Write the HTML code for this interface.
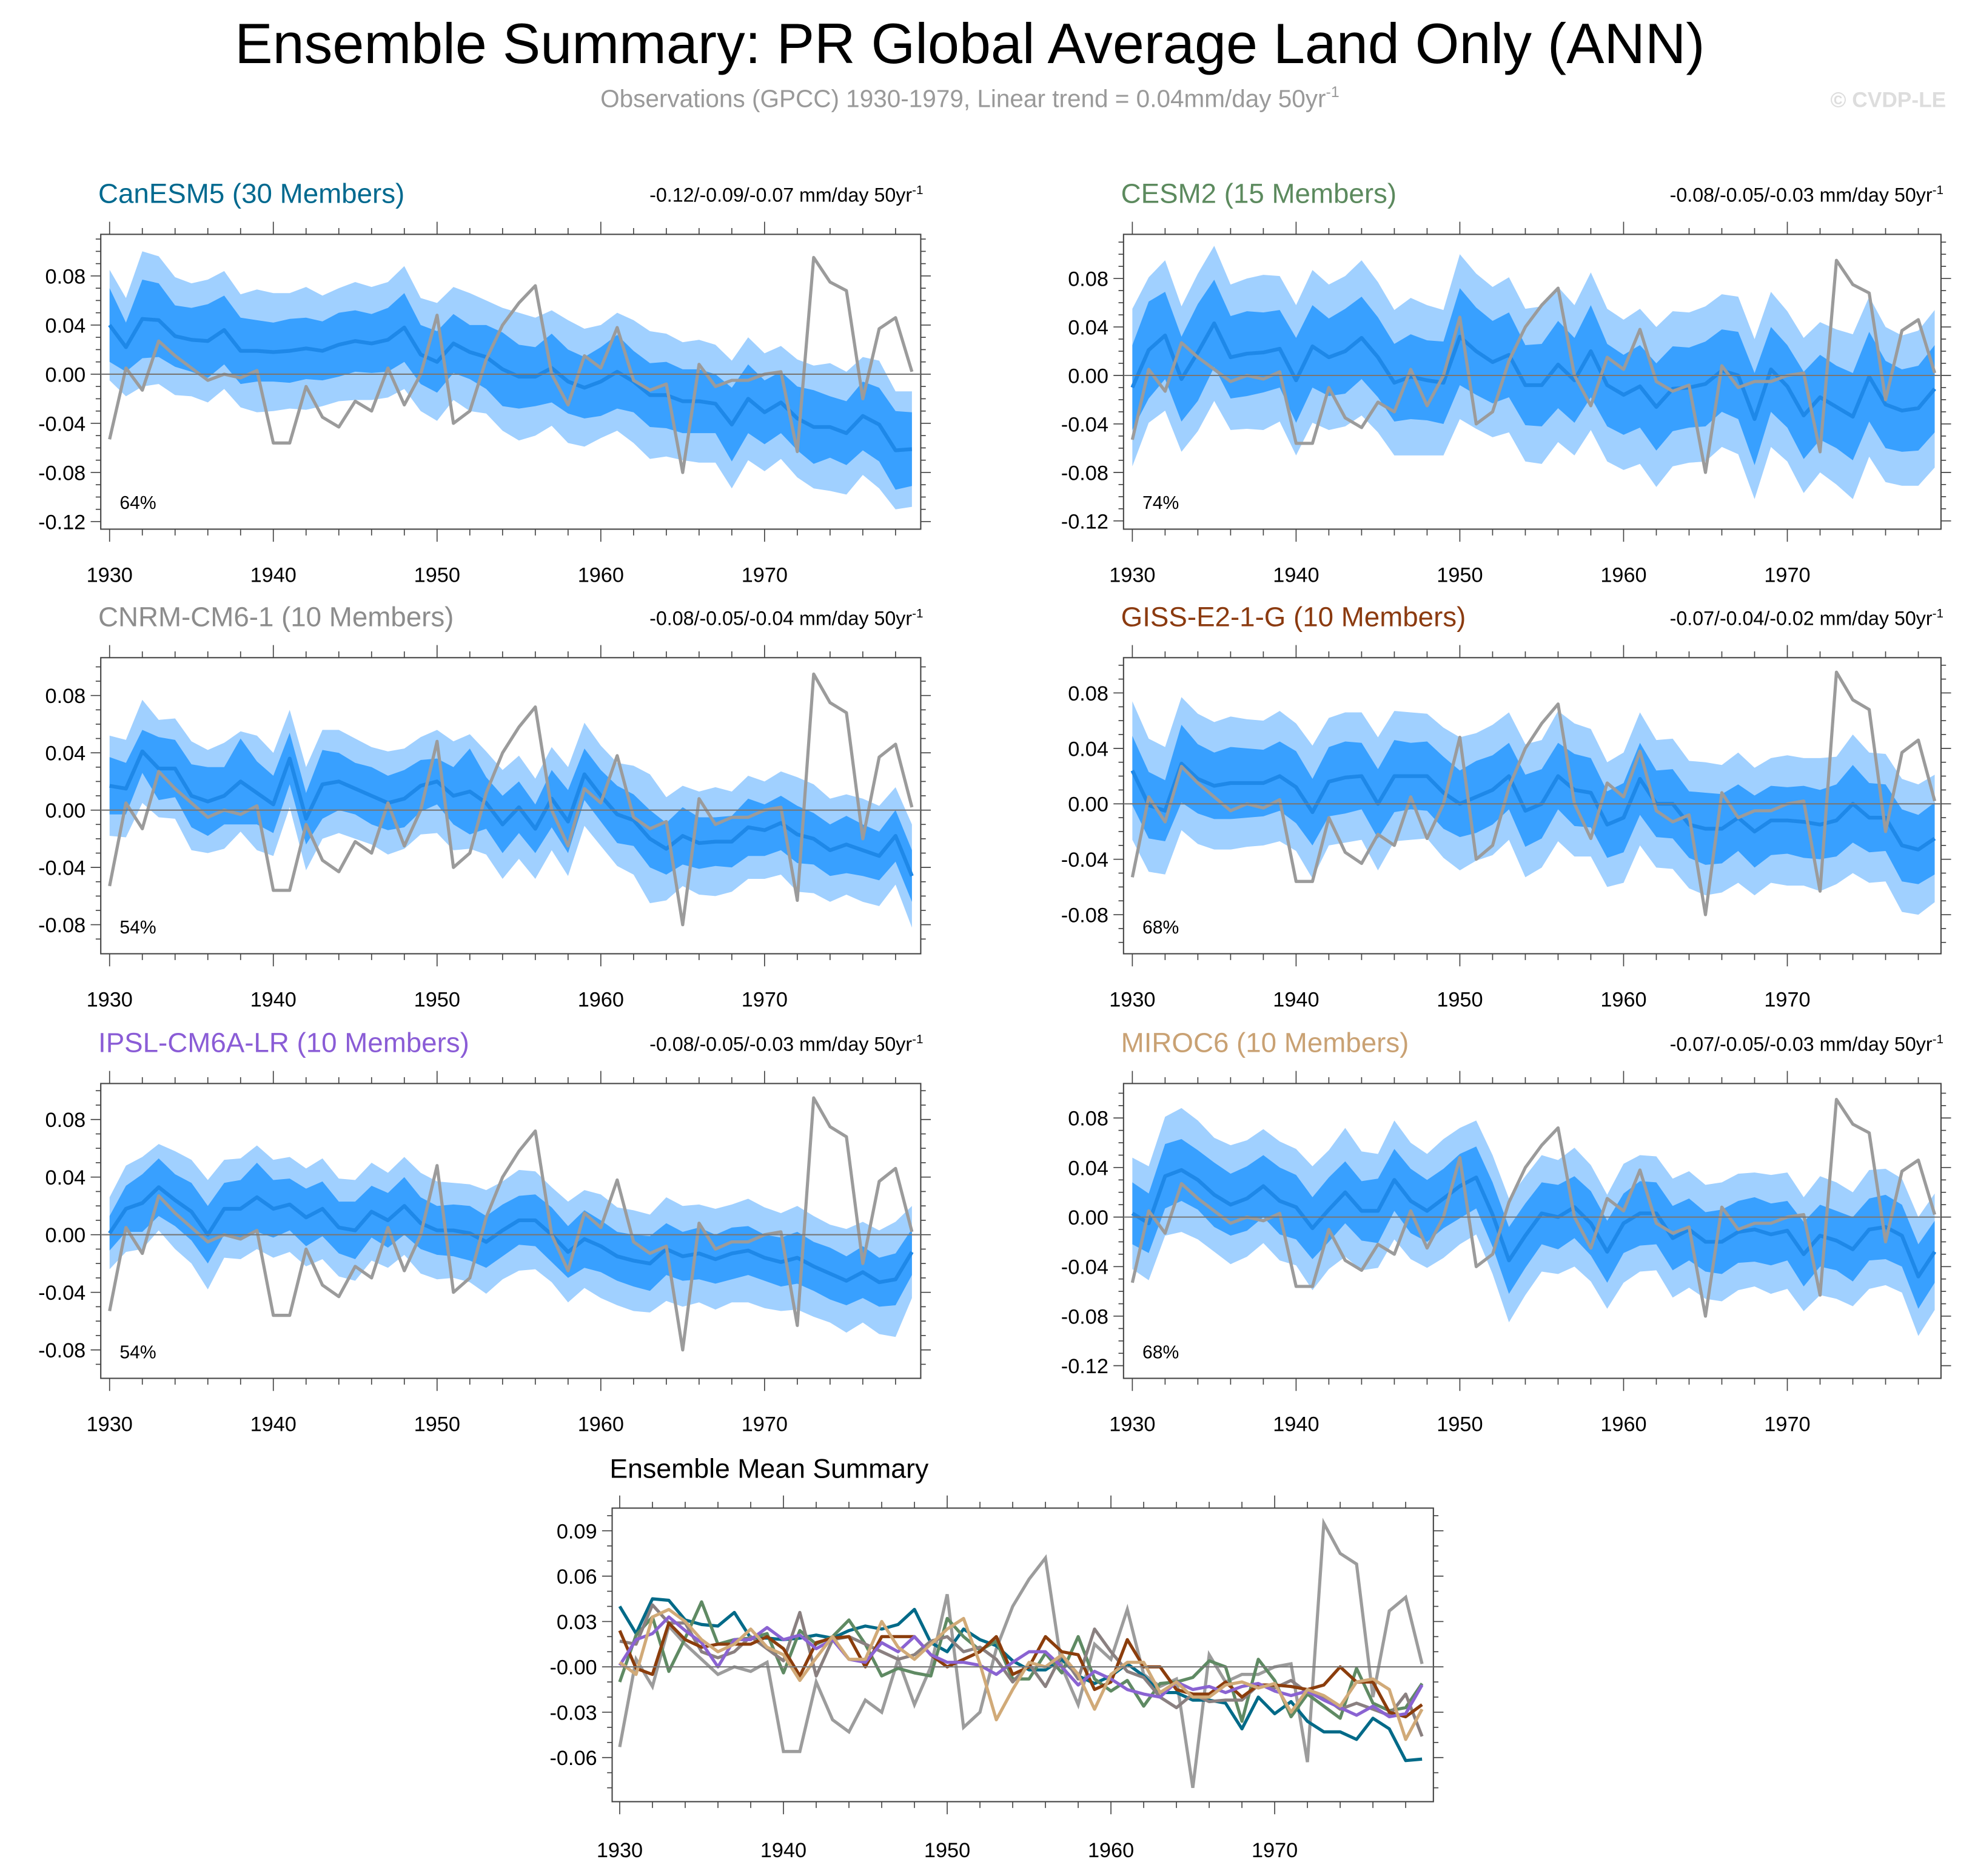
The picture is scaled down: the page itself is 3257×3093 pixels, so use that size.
<!DOCTYPE html>
<html><head><meta charset="utf-8"><style>
html,body{margin:0;padding:0;background:#fff;}
svg{display:block;font-family:"Liberation Sans",sans-serif;}
</style></head><body>
<svg id="chart" xmlns="http://www.w3.org/2000/svg" width="3257" height="3093" viewBox="0 0 1568 1489" preserveAspectRatio="none">
<rect x="0" y="0" width="1568" height="1489" fill="#fff"/>
<text x="770" y="50" font-size="45" text-anchor="middle" fill="#000">Ensemble Summary: PR Global Average Land Only (ANN)</text>
<text x="770" y="85" font-size="19.5" text-anchor="middle" fill="#999">Observations (GPCC) 1930-1979, Linear trend = 0.04mm/day 50yr<tspan dy="-8" font-size="12">-1</tspan></text>
<text x="1545" y="85" font-size="17" font-weight="bold" text-anchor="end" fill="#ddd">© CVDP-LE</text>
<g id="panels"></g>
</svg>
<script>
const years = [];
for (let y = 1930; y <= 1979; y++) years.push(y);
const obs = [-0.053,0.005,-0.013,0.027,0.015,0.005,-0.005,0.000,-0.003,0.003,-0.056,-0.056,-0.010,-0.035,-0.043,-0.022,-0.030,0.005,-0.025,0.000,0.048,-0.040,-0.030,0.012,0.040,0.058,0.072,0.000,-0.025,0.015,0.005,0.038,-0.005,-0.013,-0.008,-0.080,0.008,-0.010,-0.005,-0.005,0.000,0.002,-0.063,0.095,0.075,0.068,-0.020,0.037,0.046,0.002];
const meanCanESM5 = [0.040,0.022,0.045,0.044,0.031,0.028,0.027,0.036,0.019,0.019,0.018,0.019,0.021,0.019,0.024,0.027,0.025,0.028,0.038,0.016,0.010,0.025,0.018,0.014,0.004,-0.002,-0.002,0.005,-0.006,-0.011,-0.006,0.002,-0.006,-0.017,-0.017,-0.022,-0.022,-0.024,-0.041,-0.020,-0.031,-0.023,-0.036,-0.043,-0.043,-0.048,-0.034,-0.041,-0.062,-0.061];
const meanCESM2 = [-0.010,0.021,0.033,-0.003,0.019,0.043,0.015,0.018,0.019,0.022,-0.004,0.024,0.015,0.020,0.031,0.015,-0.006,-0.001,-0.004,-0.006,0.032,0.020,0.011,0.017,-0.008,-0.008,0.009,-0.004,0.020,-0.008,-0.016,-0.009,-0.026,-0.011,-0.010,-0.007,0.004,0.000,-0.036,0.005,-0.009,-0.033,-0.018,-0.026,-0.034,-0.001,-0.024,-0.029,-0.027,-0.011];
const meanCNRM = [0.017,0.015,0.041,0.029,0.029,0.010,0.006,0.010,0.020,0.012,0.004,0.036,-0.006,0.018,0.020,0.015,0.010,0.005,0.008,0.017,0.020,0.010,0.013,0.005,-0.010,0.002,-0.013,0.008,-0.008,0.025,0.010,-0.003,-0.007,-0.020,-0.027,-0.018,-0.023,-0.022,-0.022,-0.012,-0.014,-0.009,-0.017,-0.020,-0.028,-0.024,-0.028,-0.032,-0.018,-0.046];
const meanGISS = [0.024,-0.001,-0.005,0.029,0.018,0.013,0.015,0.015,0.015,0.020,0.012,-0.006,0.016,0.019,0.020,0.000,0.020,0.020,0.020,0.008,0.000,0.005,0.010,0.020,-0.005,0.000,0.020,0.010,0.008,-0.015,-0.010,0.018,0.000,0.000,-0.015,-0.018,-0.018,-0.010,-0.020,-0.012,-0.012,-0.013,-0.015,-0.012,0.000,-0.010,-0.010,-0.030,-0.033,-0.025];
const meanIPSL = [0.001,0.018,0.022,0.033,0.024,0.016,0.000,0.018,0.018,0.026,0.018,0.021,0.012,0.018,0.005,0.003,0.016,0.010,0.020,0.008,0.003,0.003,0.001,-0.005,0.003,0.010,0.010,0.000,-0.012,-0.003,-0.008,-0.015,-0.018,-0.020,-0.010,-0.015,-0.013,-0.017,-0.013,-0.011,-0.016,-0.019,-0.016,-0.022,-0.027,-0.032,-0.026,-0.033,-0.031,-0.012];
const meanMIROC6 = [0.003,-0.005,0.033,0.038,0.030,0.018,0.010,0.015,0.025,0.013,0.008,-0.009,0.006,0.020,0.005,0.005,0.030,0.013,0.005,0.015,0.025,0.032,0.002,-0.035,-0.015,0.003,0.000,0.008,-0.005,-0.028,-0.005,0.003,0.003,-0.017,-0.010,-0.020,-0.020,-0.012,-0.010,-0.014,-0.011,-0.030,-0.015,-0.019,-0.026,-0.010,-0.008,-0.015,-0.048,-0.028];
const innerCanESM5 = [0.030,0.020,0.032,0.030,0.025,0.026,0.030,0.028,0.027,0.025,0.024,0.026,0.025,0.024,0.026,0.025,0.024,0.026,0.028,0.024,0.025,0.024,0.022,0.026,0.030,0.026,0.024,0.028,0.026,0.025,0.028,0.030,0.025,0.026,0.027,0.026,0.026,0.024,0.030,0.028,0.026,0.025,0.026,0.030,0.025,0.026,0.028,0.030,0.032,0.030];
const outerCanESM5 = [0.045,0.040,0.055,0.052,0.048,0.046,0.050,0.048,0.046,0.050,0.048,0.047,0.050,0.045,0.046,0.048,0.046,0.047,0.050,0.046,0.048,0.046,0.048,0.046,0.050,0.052,0.048,0.047,0.050,0.048,0.046,0.048,0.050,0.052,0.050,0.048,0.050,0.048,0.052,0.050,0.048,0.046,0.048,0.050,0.052,0.050,0.048,0.052,0.048,0.047];
const innerCESM2 = [0.035,0.040,0.036,0.035,0.040,0.036,0.034,0.035,0.033,0.032,0.035,0.034,0.032,0.035,0.034,0.033,0.032,0.035,0.033,0.034,0.040,0.036,0.034,0.035,0.033,0.034,0.036,0.035,0.038,0.034,0.033,0.034,0.036,0.035,0.033,0.035,0.034,0.036,0.038,0.035,0.034,0.036,0.035,0.034,0.036,0.037,0.036,0.034,0.035,0.036];
const outerCESM2 = [0.065,0.060,0.062,0.060,0.065,0.064,0.060,0.062,0.064,0.060,0.062,0.063,0.060,0.062,0.064,0.062,0.060,0.065,0.062,0.060,0.068,0.064,0.062,0.064,0.063,0.065,0.064,0.062,0.065,0.063,0.062,0.064,0.066,0.064,0.062,0.064,0.063,0.065,0.066,0.064,0.062,0.064,0.062,0.064,0.068,0.066,0.064,0.062,0.064,0.065];
const innerCNRM = [0.020,0.018,0.015,0.022,0.020,0.022,0.024,0.020,0.030,0.022,0.020,0.018,0.018,0.024,0.020,0.018,0.020,0.019,0.020,0.018,0.016,0.020,0.030,0.018,0.020,0.018,0.017,0.020,0.022,0.018,0.018,0.020,0.018,0.020,0.018,0.020,0.018,0.017,0.018,0.020,0.018,0.019,0.020,0.018,0.018,0.020,0.018,0.017,0.018,0.018];
const outerCNRM = [0.035,0.034,0.036,0.034,0.035,0.038,0.036,0.037,0.035,0.040,0.036,0.034,0.036,0.038,0.036,0.035,0.034,0.036,0.035,0.034,0.036,0.038,0.040,0.036,0.038,0.036,0.035,0.036,0.038,0.036,0.035,0.036,0.038,0.045,0.036,0.035,0.036,0.038,0.035,0.036,0.034,0.036,0.040,0.038,0.036,0.035,0.036,0.035,0.034,0.036];
const innerGISS = [0.025,0.024,0.022,0.028,0.025,0.024,0.026,0.025,0.024,0.025,0.026,0.024,0.025,0.026,0.024,0.025,0.026,0.024,0.025,0.026,0.024,0.026,0.025,0.024,0.026,0.025,0.024,0.026,0.025,0.024,0.025,0.026,0.024,0.025,0.024,0.026,0.025,0.024,0.026,0.025,0.024,0.026,0.025,0.026,0.028,0.025,0.024,0.026,0.025,0.026];
const outerGISS = [0.050,0.048,0.046,0.048,0.047,0.046,0.048,0.046,0.045,0.047,0.046,0.048,0.046,0.047,0.046,0.048,0.047,0.046,0.045,0.047,0.048,0.046,0.047,0.046,0.048,0.046,0.047,0.048,0.046,0.045,0.047,0.048,0.046,0.047,0.046,0.048,0.046,0.047,0.046,0.045,0.047,0.046,0.048,0.046,0.050,0.047,0.046,0.048,0.047,0.046];
const innerIPSL = [0.012,0.016,0.020,0.020,0.018,0.020,0.020,0.018,0.020,0.024,0.020,0.018,0.020,0.019,0.018,0.020,0.018,0.019,0.020,0.018,0.017,0.018,0.019,0.018,0.018,0.017,0.018,0.019,0.018,0.020,0.018,0.017,0.018,0.019,0.018,0.017,0.018,0.017,0.018,0.017,0.016,0.017,0.018,0.017,0.018,0.017,0.018,0.017,0.018,0.016];
const outerIPSL = [0.025,0.030,0.032,0.030,0.034,0.036,0.038,0.034,0.035,0.036,0.034,0.033,0.034,0.035,0.034,0.035,0.034,0.033,0.034,0.035,0.034,0.033,0.034,0.036,0.034,0.035,0.034,0.033,0.035,0.034,0.036,0.034,0.035,0.034,0.036,0.035,0.034,0.035,0.034,0.036,0.035,0.034,0.036,0.035,0.034,0.036,0.035,0.036,0.040,0.032];
const innerMIROC6 = [0.025,0.024,0.026,0.025,0.024,0.026,0.025,0.026,0.025,0.027,0.026,0.025,0.026,0.025,0.024,0.026,0.025,0.026,0.025,0.024,0.026,0.025,0.026,0.027,0.026,0.025,0.026,0.025,0.026,0.025,0.024,0.026,0.025,0.026,0.025,0.024,0.026,0.025,0.026,0.025,0.024,0.026,0.025,0.024,0.026,0.025,0.026,0.025,0.026,0.025];
const outerMIROC6 = [0.045,0.046,0.048,0.050,0.048,0.046,0.048,0.047,0.046,0.048,0.047,0.050,0.048,0.052,0.048,0.046,0.048,0.047,0.046,0.048,0.047,0.046,0.048,0.050,0.048,0.047,0.046,0.048,0.047,0.046,0.048,0.047,0.046,0.048,0.047,0.046,0.048,0.047,0.046,0.048,0.047,0.046,0.048,0.047,0.046,0.048,0.047,0.046,0.048,0.047];
const modelNames = ["CanESM5 (30 Members)","CESM2 (15 Members)","CNRM-CM6-1 (10 Members)","GISS-E2-1-G (10 Members)","IPSL-CM6A-LR (10 Members)","MIROC6 (10 Members)"];
const trendLabels = ["-0.12/-0.09/-0.07","-0.08/-0.05/-0.03","-0.08/-0.05/-0.04","-0.07/-0.04/-0.02","-0.08/-0.05/-0.03","-0.07/-0.05/-0.03"];
const pctLabels = ["64%","74%","54%","68%","54%","68%"];
const yTicksA = [0.08,0.04,0.00,-0.04,-0.08,-0.12];
const yTicksB = [0.08,0.04,0.00,-0.04,-0.08];
const xTicks = [1930,1940,1950,1960,1970];
const sumTicks = [0.09,0.06,0.03,0.00,-0.03,-0.06];
const sumTickLabels = ["0.09","0.06","0.03","-0.00","-0.03","-0.06"];

const NS = "http://www.w3.org/2000/svg";
const root = document.getElementById("panels");
function mk(tag, attrs, parent) { const e = document.createElementNS(NS, tag); for (const k in attrs) e.setAttribute(k, attrs[k]); (parent||root).appendChild(e); return e; }

const means = [meanCanESM5,meanCESM2,meanCNRM,meanGISS,meanIPSL,meanMIROC6];
const inners = [innerCanESM5,innerCESM2,innerCNRM,innerGISS,innerIPSL,innerMIROC6];
const outers = [outerCanESM5,outerCESM2,outerCNRM,outerGISS,outerIPSL,outerMIROC6];
const titleColors = ["#00698f","#5c8a5e","#8c8c8c","#8b3a0f","#8a5cd6","#c9a173"];
const lineColors = ["#006a88","#5f8a63","#8a8080","#8b3d0c","#8a63d2","#d1aa78"];
const layouts = [[80,186,731,420,297,975],[892,186,1541,420,298,962],[80,522,731,757,643,1137],[892,522,1541,757,638,1100],[80,860,731,1094,980,1143],[892,860,1541,1094,966,983]];
const ticksets = [yTicksA,yTicksA,yTicksB,yTicksB,yTicksB,yTicksA];

function fmt(v){ return v.toFixed(2); }

function drawAxes(g, L, R, T, B, yOf, xOf, ticks, labels, minorStep, xLabelY) {
  mk("rect",{x:L,y:T,width:R-L,height:B-T,fill:"none",stroke:"#444","stroke-width":1},g);
  mk("line",{x1:L,x2:R,y1:yOf(0),y2:yOf(0),stroke:"#777","stroke-width":1},g);
  for (let k=-20;k<=20;k++){ const v=k*minorStep; const y=yOf(v); if(y<T+1||y>B-1) continue;
    const major = ticks.some(t=>Math.abs(t-v)<1e-9);
    const len = major?8:4;
    mk("line",{x1:L-len,x2:L,y1:y,y2:y,stroke:"#444","stroke-width":0.8},g);
    mk("line",{x1:R,x2:R+len,y1:y,y2:y,stroke:"#444","stroke-width":0.8},g);
  }
  ticks.forEach((t,i)=>{ const tx=mk("text",{x:L-12,y:yOf(t)+6,"font-size":16.5,"text-anchor":"end",fill:"#000"},g); tx.textContent=labels[i];
    
     });
  years.forEach(yr=>{ if(yr%2) return; const x=xOf(yr); const major=yr%10===0; const len=major?10:5;
    mk("line",{x1:x,x2:x,y1:T-len,y2:T,stroke:"#444","stroke-width":0.8},g);
    mk("line",{x1:x,x2:x,y1:B,y2:B+len,stroke:"#444","stroke-width":0.8},g);
  });
  xTicks.forEach(yr=>{ const tx=mk("text",{x:xOf(yr),y:xLabelY,"font-size":16.5,"text-anchor":"middle",fill:"#000"},g); tx.textContent=yr;
    
     });
}

for (let m=0;m<6;m++){
  const [L,T,R,B,z,ppu] = layouts[m];
  const g = mk("g",{});
  
  
  const yOf = v => z - v*ppu;
  const xOf = yr => L + 7 + (yr-1930)*13;
  const mean = means[m], inn = inners[m], out = outers[m];
  const band = (hw) => { let up = years.map((yr,i)=>xOf(yr)+","+Math.max(T,yOf(mean[i]+hw[i]))); let lo = years.map((yr,i)=>xOf(yr)+","+Math.min(B,yOf(mean[i]-hw[i]))).reverse(); return up.concat(lo).join(" "); };
  const ob = mk("polygon",{points:band(out),fill:"#a0d0ff"},g);
  
  
  const ib = mk("polygon",{points:band(inn),fill:"#38a0ff"},g);
  
  
  const ml = mk("polyline",{points:years.map((yr,i)=>xOf(yr)+","+yOf(mean[i])).join(" "),fill:"none",stroke:"#1e88e8","stroke-width":3,"stroke-linejoin":"round"},g);
  
  
  const ol = mk("polyline",{points:years.map((yr,i)=>xOf(yr)+","+yOf(obs[i])).join(" "),fill:"none",stroke:"#9b9b9b","stroke-width":2.5,"stroke-linejoin":"round"},g);
  
  
  drawAxes(g,L,R,T,B,yOf,xOf,ticksets[m],ticksets[m].map(fmt),0.01,B+42);
  const tt = mk("text",{x:L-2,y:T-25,"font-size":22,fill:titleColors[m]},g); tt.textContent = modelNames[m];
  
  
  const tr = mk("text",{x:R+2,y:T-26,"font-size":15.5,"text-anchor":"end",fill:"#000"},g);
  tr.textContent = trendLabels[m] + " mm/day 50yr";
  const sup = mk("tspan",{dy:-6,"font-size":10},tr); sup.textContent="-1";
  
  
  const pc = mk("text",{x:L+15,y:B-16,"font-size":14.5,fill:"#000"},g); pc.textContent = pctLabels[m];
  
  
}

(function(){
  const L=486,T=1197,R=1138,B=1430,z=1323,ppu=1200;
  const g = mk("g",{});
  
  
  const yOf = v => z - v*ppu;
  const xOf = yr => L + 6 + (yr-1930)*13;
  const ol = mk("polyline",{points:years.map((yr,i)=>xOf(yr)+","+yOf(obs[i])).join(" "),fill:"none",stroke:"#9c9c9c","stroke-width":2.5},g);
  
  
  for (let m=0;m<6;m++){
    const pl = mk("polyline",{points:years.map((yr,i)=>xOf(yr)+","+yOf(means[m][i])).join(" "),fill:"none",stroke:lineColors[m],"stroke-width":2.5,"stroke-linejoin":"round"},g);
    
    
  }
  drawAxes(g,L,R,T,B,yOf,xOf,sumTicks,sumTickLabels,0.01,B+44);
  const tt = mk("text",{x:L-2,y:T-24,"font-size":21.5,fill:"#000"},g); tt.textContent="Ensemble Mean Summary";
  
  
})();
</script>
</body></html>
